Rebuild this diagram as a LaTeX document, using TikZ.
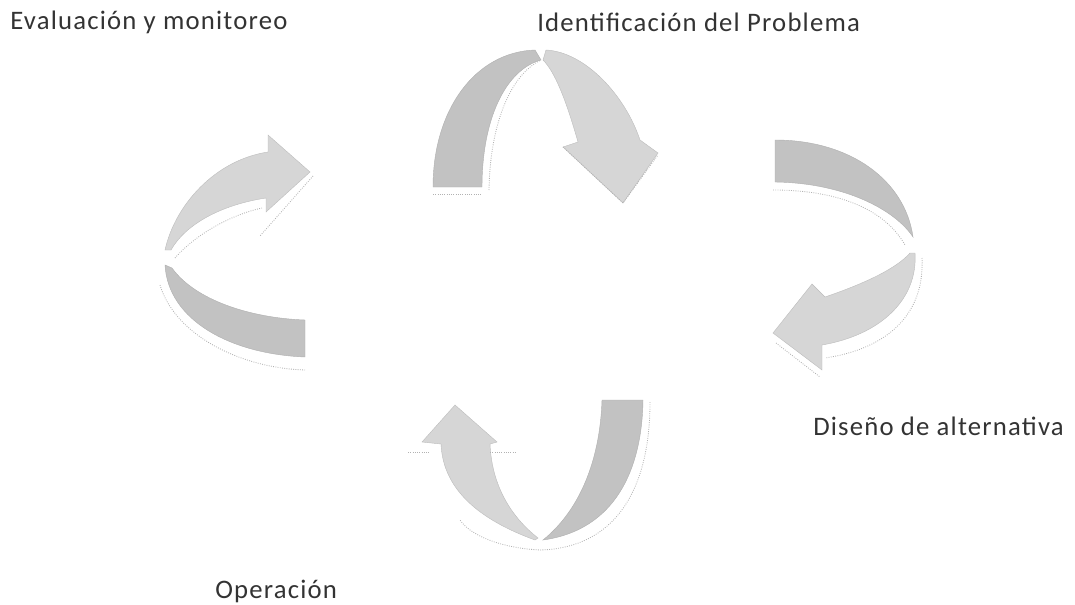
\documentclass[tikz,border=0pt]{standalone}
\usepackage{fontspec}
\setmainfont[LetterSpace=4.5]{Carlito}
\usepackage{tikz}

\begin{document}
\begin{tikzpicture}[
    x=0.025cm, y=-0.025cm,
    backband/.style={fill=gray!48, draw=gray!62, line width=0.3pt},
    frontband/.style={fill=gray!32, draw=gray!52, line width=0.3pt},
    rim/.style={draw=gray!60, densely dotted, line width=0.6pt},
    steplabel/.style={font=\fontsize{19}{22}\selectfont, anchor=base west, inner sep=0pt, text=black!80}
]
\useasboundingbox (0,0) rectangle (1075,604);

% Labels
\node[steplabel] (eval) at (10,30) {Evaluación y monitoreo};
\node[steplabel] (ident) at (537,32) {Identificación del Problema};
\node[steplabel] (disen) at (813,435) {Diseño de alternativa};
\node[steplabel] (oper) at (215,598) {Operación};

% Top arrow
\path[backband] (433,187) .. controls (433,110) and (475,52) .. (535,50)
    -- (541,60) .. controls (505,70) and (482,120) .. (482,187) -- cycle;
\path[frontband] (546,50) .. controls (585,52) and (625,95) .. (640,140)
    -- (658,153) -- (623,203) -- (563,147) -- (578,142)
    .. controls (566,100) and (555,72) .. (543,60) -- cycle;
\draw[rim] (433,194) -- (482,194);
\draw[rim] (489,190) .. controls (490,125) and (510,75) .. (541,60);
\draw[rim] (563,147) -- (623,203) -- (658,155);

% Right arrow
\path[backband] (775,140) .. controls (850,140) and (905,180) .. (913,237)
    .. controls (895,210) and (845,183) .. (775,182) -- cycle;
\path[frontband] (915,253) .. controls (918,300) and (880,335) .. (822,345)
    -- (822,370) -- (773,333) -- (812,284) -- (825,297)
    .. controls (860,285) and (895,270) .. (910,253) -- cycle;
\draw[rim] (773,190) .. controls (840,190) and (885,210) .. (905,245);
\draw[rim] (922,258) .. controls (925,320) and (880,350) .. (825,358);
\draw[rim] (776,343) -- (820,377);

% Bottom arrow
\path[backband] (602,400) -- (643,400) .. controls (642,470) and (615,530) .. (543,540)
    .. controls (580,510) and (600,460) .. (602,400) -- cycle;
\path[frontband] (535,540) .. controls (480,520) and (443,490) .. (441,444)
    -- (422,442) -- (455,405) -- (497,442) -- (490,444)
    .. controls (492,490) and (515,520) .. (538,538) -- cycle;
\draw[rim] (650,402) .. controls (650,490) and (615,548) .. (540,550)
    .. controls (500,548) and (470,535) .. (460,520);
\draw[rim] (408,452) -- (430,452);
\draw[rim] (490,452) -- (515,452);

% Left arrow
\path[frontband] (165,250) .. controls (175,205) and (215,160) .. (268,152)
    -- (268,135) -- (310,172) -- (266,212) -- (266,198)
    .. controls (220,205) and (185,225) .. (171,250) -- cycle;
\path[backband] (165,265) .. controls (168,320) and (230,354) .. (305,357)
    -- (305,320) .. controls (250,318) and (195,300) .. (172,268) -- cycle;
\draw[rim] (175,258) .. controls (195,235) and (230,215) .. (262,208);
\draw[rim] (313,176) -- (260,236);
\draw[rim] (160,285) .. controls (175,335) and (240,368) .. (305,370);

\end{tikzpicture}
\end{document}
